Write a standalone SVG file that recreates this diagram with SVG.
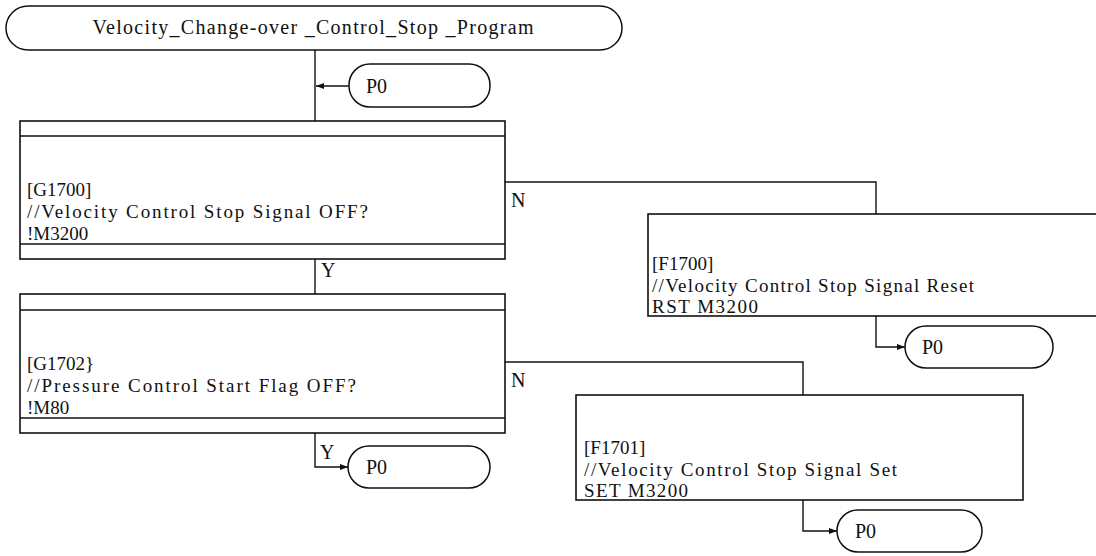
<svg xmlns="http://www.w3.org/2000/svg" width="1096" height="556" viewBox="0 0 1096 556">
  <defs>
    <marker id="arrow" viewBox="0 0 8 6" refX="8" refY="3" markerWidth="8" markerHeight="6" markerUnits="userSpaceOnUse" orient="auto">
      <path d="M0,0 L8,3 L0,6 Z" fill="#111"/>
    </marker>
    <style>
      .box { fill: #fff; stroke: #111; stroke-width: 1.6; }
      .term { fill: #fff; stroke: #111; stroke-width: 1.5; }
      .band { stroke: #111; stroke-width: 1.4; fill: none; }
      .wire { fill: none; stroke: #111; stroke-width: 1.4; }
      .arr { marker-end: url(#arrow); }
      text { font-family: "Liberation Serif", "Times New Roman", serif; font-size: 19px; fill: #111; }
      .lbl { font-size: 20px; }
      .mid { text-anchor: middle; }
    </style>
  </defs>
  <rect width="1096" height="556" fill="#fff"/>

  <!-- connectors -->
  <g id="connectors">
    <path class="wire" d="M315,50 V121"/>
    <path class="wire arr" d="M349,86 H316"/>
    <path class="wire" d="M315,259 V294"/>
    <path class="wire arr" d="M315,433 V467 H348"/>
    <path class="wire" d="M505,182 H876 V214"/>
    <path class="wire arr" d="M876,316 V347 H905"/>
    <path class="wire" d="M505,362 H803 V395"/>
    <path class="wire arr" d="M803,500 V531 H837"/>
    <text class="lbl" x="321" y="277">Y</text>
    <text class="lbl" x="320" y="459">Y</text>
    <text class="lbl" x="511" y="207">N</text>
    <text class="lbl" x="511" y="387">N</text>
  </g>

  <!-- program start terminal -->
  <g id="start">
    <rect class="term" x="6" y="6" width="616" height="44" rx="22" ry="22"/>
    <text class="mid lbl" x="313" y="34" textLength="441" lengthAdjust="spacing">Velocity_Change-over _Control_Stop _Program</text>
  </g>

  <!-- jump label P0 (entry) -->
  <g id="p0-entry">
    <rect class="term" x="349" y="64" width="141" height="43" rx="21" ry="21"/>
    <text class="lbl" x="366" y="93">P0</text>
  </g>

  <!-- condition G1700 -->
  <g id="g1700">
    <rect class="box" x="20" y="121" width="485" height="138"/>
    <path class="band" d="M20,136 H505 M20,244 H505"/>
    <text x="27" y="196">[G1700]</text>
    <text x="27" y="218" textLength="341" lengthAdjust="spacing">//Velocity Control Stop Signal OFF?</text>
    <text x="27" y="240">!M3200</text>
  </g>

  <!-- condition G1702 -->
  <g id="g1702">
    <rect class="box" x="20" y="294" width="485" height="139"/>
    <path class="band" d="M20,310 H505 M20,418 H505"/>
    <text x="27" y="370">[G1702}</text>
    <text x="27" y="392" textLength="329" lengthAdjust="spacing">//Pressure Control Start Flag OFF?</text>
    <text x="27" y="414">!M80</text>
  </g>

  <!-- jump label P0 after G1702 -->
  <g id="p0-g1702">
    <rect class="term" x="348" y="446" width="142" height="42" rx="21" ry="21"/>
    <text class="lbl" x="366" y="474">P0</text>
  </g>

  <!-- process F1700 -->
  <g id="f1700">
    <rect class="box" x="648" y="214" width="460" height="102"/>
    <text x="652" y="270">[F1700]</text>
    <text x="652" y="292" textLength="322" lengthAdjust="spacing">//Velocity Control Stop Signal Reset</text>
    <text x="652" y="313" textLength="106" lengthAdjust="spacing">RST M3200</text>
  </g>

  <!-- jump label P0 after F1700 -->
  <g id="p0-f1700">
    <rect class="term" x="905" y="326" width="148" height="42" rx="21" ry="21"/>
    <text class="lbl" x="922" y="354">P0</text>
  </g>

  <!-- process F1701 -->
  <g id="f1701">
    <rect class="box" x="576" y="395" width="447" height="105"/>
    <text x="584" y="454">[F1701]</text>
    <text x="584" y="476" textLength="313" lengthAdjust="spacing">//Velocity Control Stop Signal Set</text>
    <text x="584" y="497" textLength="104" lengthAdjust="spacing">SET M3200</text>
  </g>

  <!-- jump label P0 after F1701 -->
  <g id="p0-f1701">
    <rect class="term" x="837" y="510" width="145" height="42" rx="21" ry="21"/>
    <text class="lbl" x="855" y="538">P0</text>
  </g>
</svg>
